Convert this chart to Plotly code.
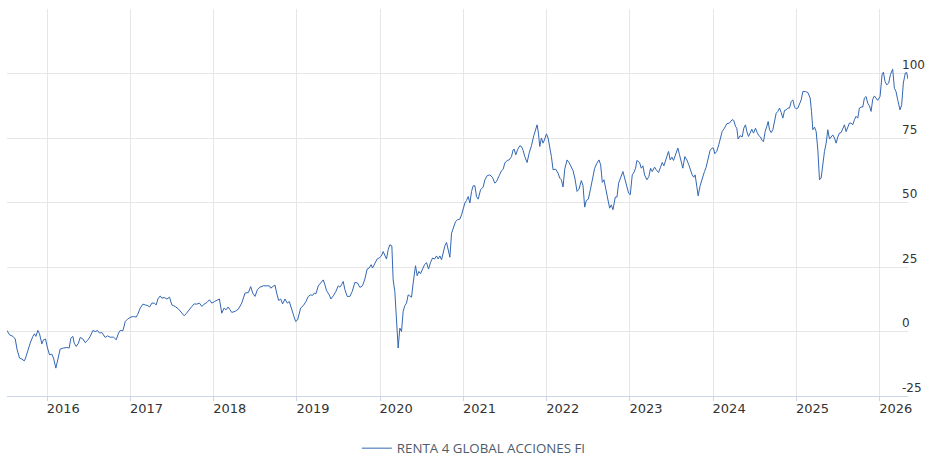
import numpy as np
import pandas as pd
import plotly.graph_objects as go

# Decimal-year dates
dec_years = [
    2015.517, 2015.548, 2015.589, 2015.616, 2015.637, 2015.668, 2015.697, 2015.724, 2015.740, 2015.769,
    2015.796, 2015.828, 2015.848, 2015.864, 2015.888, 2015.908, 2015.936, 2015.956, 2015.980, 2016.004,
    2016.028, 2016.056, 2016.076, 2016.104, 2016.124, 2016.156, 2016.196, 2016.236, 2016.264, 2016.284,
    2016.308, 2016.324, 2016.348, 2016.375, 2016.396, 2016.428, 2016.456, 2016.483, 2016.516, 2016.548,
    2016.576, 2016.603, 2016.627, 2016.656, 2016.696, 2016.723, 2016.756, 2016.795, 2016.828, 2016.855,
    2016.876, 2016.908, 2016.936, 2016.964, 2017.004, 2017.036, 2017.068, 2017.084, 2017.116, 2017.148,
    2017.176, 2017.208, 2017.228, 2017.256, 2017.284, 2017.308, 2017.328, 2017.356, 2017.376, 2017.404,
    2017.436, 2017.468, 2017.496, 2017.536, 2017.576, 2017.616, 2017.644, 2017.668, 2017.708, 2017.736,
    2017.764, 2017.796, 2017.828, 2017.856, 2017.884, 2017.916, 2017.948, 2017.976, 2018.008, 2018.036,
    2018.068, 2018.096, 2018.124, 2018.148, 2018.172, 2018.196, 2018.216, 2018.256, 2018.296, 2018.336,
    2018.376, 2018.416, 2018.444, 2018.468, 2018.496, 2018.524, 2018.556, 2018.596, 2018.636, 2018.668,
    2018.684, 2018.716, 2018.736, 2018.756, 2018.780, 2018.804, 2018.828, 2018.856, 2018.884, 2018.908,
    2018.936, 2018.964, 2018.984, 2019.008,
    2019.044, 2019.076, 2019.108, 2019.136, 2019.164, 2019.188, 2019.208, 2019.228, 2019.256, 2019.284,
    2019.316, 2019.336, 2019.356, 2019.388, 2019.408, 2019.436, 2019.468, 2019.496, 2019.516, 2019.536,
    2019.556, 2019.576, 2019.604, 2019.636, 2019.664, 2019.696, 2019.728, 2019.756, 2019.788, 2019.816,
    2019.844, 2019.868, 2019.892, 2019.908, 2019.936, 2019.964, 2019.988, 2020.016, 2020.036, 2020.056,
    2020.076, 2020.096,
    2020.116, 2020.140, 2020.156, 2020.176, 2020.196, 2020.216, 2020.236, 2020.256, 2020.276, 2020.296,
    2020.316, 2020.336, 2020.356, 2020.376, 2020.396, 2020.424, 2020.444, 2020.464, 2020.484, 2020.508,
    2020.532, 2020.556, 2020.580, 2020.604, 2020.628, 2020.652, 2020.676, 2020.696, 2020.716, 2020.736,
    2020.756, 2020.776, 2020.796, 2020.816, 2020.836, 2020.856, 2020.876, 2020.904, 2020.928, 2020.956,
    2020.976, 2020.996, 2021.016, 2021.036, 2021.056,
    2021.076, 2021.096, 2021.116, 2021.136, 2021.156, 2021.176, 2021.204, 2021.236, 2021.256, 2021.284,
    2021.316, 2021.348, 2021.376, 2021.396, 2021.428, 2021.456, 2021.476, 2021.496, 2021.524, 2021.548,
    2021.576, 2021.596, 2021.608, 2021.628, 2021.648, 2021.676, 2021.696, 2021.716, 2021.736, 2021.764,
    2021.788, 2021.816, 2021.844, 2021.864, 2021.884, 2021.900, 2021.916, 2021.936, 2021.956, 2021.976,
    2021.996, 2022.016, 2022.036, 2022.056, 2022.076, 2022.108, 2022.136, 2022.156, 2022.176, 2022.196,
    2022.216, 2022.244, 2022.268, 2022.296, 2022.316, 2022.340, 2022.364, 2022.388, 2022.416, 2022.436,
    2022.456, 2022.476, 2022.500, 2022.524, 2022.548, 2022.576, 2022.604, 2022.628, 2022.648, 2022.668,
    2022.688, 2022.716, 2022.736, 2022.756, 2022.776, 2022.796, 2022.824, 2022.844, 2022.864, 2022.888,
    2022.916, 2022.936, 2022.956, 2022.984, 2023.004, 2023.028,
    2023.044, 2023.068, 2023.084, 2023.116, 2023.136, 2023.156, 2023.176, 2023.204, 2023.228, 2023.248,
    2023.268, 2023.296, 2023.316, 2023.344, 2023.368, 2023.388, 2023.408, 2023.428, 2023.448, 2023.464,
    2023.484, 2023.504, 2023.524, 2023.548, 2023.576, 2023.596, 2023.616, 2023.636, 2023.660, 2023.684,
    2023.708, 2023.728, 2023.748, 2023.768, 2023.784, 2023.804, 2023.820, 2023.844, 2023.868, 2023.896,
    2023.916, 2023.940, 2023.964, 2023.988, 2024.004, 2024.020, 2024.044, 2024.068, 2024.084, 2024.108,
    2024.136, 2024.164, 2024.196, 2024.228, 2024.248, 2024.268, 2024.284, 2024.300, 2024.324, 2024.348,
    2024.368, 2024.388, 2024.404, 2024.424, 2024.444, 2024.464, 2024.484, 2024.508, 2024.528, 2024.548,
    2024.568, 2024.588, 2024.604, 2024.624, 2024.644, 2024.660, 2024.676, 2024.696, 2024.716, 2024.736,
    2024.756, 2024.776, 2024.796, 2024.816, 2024.836, 2024.856, 2024.876, 2024.896, 2024.916, 2024.936,
    2024.956, 2024.976, 2024.996, 2025.016,
    2025.036, 2025.056, 2025.076, 2025.108, 2025.136, 2025.164, 2025.180, 2025.196, 2025.216, 2025.236,
    2025.256, 2025.276, 2025.296, 2025.316, 2025.336, 2025.356, 2025.376, 2025.396, 2025.416, 2025.436,
    2025.456, 2025.476, 2025.496, 2025.516, 2025.536, 2025.556, 2025.576, 2025.596, 2025.616, 2025.636,
    2025.656, 2025.676, 2025.696, 2025.716, 2025.736, 2025.756, 2025.776, 2025.796, 2025.816, 2025.836,
    2025.856, 2025.876, 2025.896, 2025.916, 2025.936, 2025.956, 2025.976, 2026.004, 2026.028, 2026.044,
    2026.064, 2026.084, 2026.108, 2026.128, 2026.156, 2026.176, 2026.196, 2026.216, 2026.244, 2026.264,
    2026.284, 2026.308, 2026.324, 2026.340,
]

# Fund return (%)
values = [
    0.4, -1.3, -1.9, -2.9, -6.8, -10.3, -10.7, -11.4, -10.3, -6.8,
    -4.5, -1.9, -0.9, -1.9, 0.4, -0.9, -4.8, -3.2, -2.9, -6.4,
    -9.0, -8.8, -10.3, -14.2, -11.0, -6.8, -6.4, -6.2, -6.4, -2.6,
    -1.9, -4.5, -5.8, -4.5, -2.3, -2.9, -4.3, -3.5, -1.9, 0.4,
    0.0, 0.4, -0.6, -0.4, -2.3, -1.7, -2.2, -2.2, -3.2, -0.6,
    0.4, 0.3, 3.9, 4.8, 5.6, 5.8, 5.6, 6.5, 9.1, 10.6,
    10.3, 10.0, 9.5, 11.0, 11.0, 10.3, 12.6, 13.8, 12.9, 13.2,
    12.6, 13.3, 10.3, 9.7, 8.7, 7.1, 6.1, 6.9, 8.7, 9.7,
    10.7, 10.6, 11.0, 9.7, 10.6, 11.2, 12.3, 11.0, 11.6, 12.0,
    12.6, 7.1, 9.1, 8.4, 9.5, 8.4, 7.4, 7.8, 8.7, 11.0,
    14.9, 15.1, 17.4, 14.9, 13.6, 16.2, 17.2, 17.7, 17.8, 17.7,
    16.8, 17.7, 18.0, 14.9, 12.0, 12.6, 10.7, 12.6, 11.0, 11.6,
    9.1, 5.8, 3.9, 4.5,
    9.1, 10.0, 11.6, 13.6, 14.2, 14.0, 14.9, 14.6, 17.7, 19.0,
    20.0, 18.1, 15.8, 14.2, 12.6, 13.8, 15.5, 17.7, 17.2, 18.1,
    19.4, 16.2, 13.6, 13.6, 15.5, 19.0, 18.8, 17.1, 17.7, 20.3,
    24.2, 24.6, 25.9, 24.6, 26.5, 28.1, 28.5, 29.3, 31.0, 29.7,
    28.1, 31.7,
    33.6, 33.2, 20.0, 15.5, 5.8, -6.4, 1.3, 0.0, 7.8, 10.0,
    11.0, 14.2, 13.8, 13.3, 18.8, 25.5, 21.6, 23.3, 22.4, 24.2,
    25.9, 26.7, 24.2, 26.7, 28.5, 28.1, 29.3, 28.1, 29.3, 27.8,
    31.0, 33.2, 34.5, 31.9, 28.8, 38.1, 40.1, 42.6, 43.3, 43.6,
    45.2, 47.4, 49.8, 50.8, 52.3,
    49.8, 54.3, 56.5, 56.5, 52.3, 51.3, 54.9, 56.0, 58.8, 60.4,
    60.7, 59.7, 57.5, 58.1, 60.4, 62.3, 62.9, 65.3, 66.3, 66.5,
    67.8, 70.4, 70.7, 68.5, 70.4, 72.0, 71.7, 70.2, 67.8, 65.5,
    69.1, 72.0, 75.9, 77.9, 80.1, 76.9, 71.7, 75.0, 73.0, 74.6,
    76.6, 75.0, 72.0, 67.8, 62.7, 62.9, 61.4, 59.5, 58.8, 56.0,
    62.9, 66.5, 65.5, 63.3, 62.4, 59.1, 54.3, 55.2, 58.5, 56.5,
    48.2, 50.8, 51.3, 54.9, 59.5, 63.3, 65.3, 66.5, 64.6, 57.8,
    58.8, 54.3, 49.8, 47.8, 49.1, 47.2, 52.1, 52.1, 57.5, 59.5,
    62.0, 59.5, 56.5, 53.6, 53.0, 60.7,
    61.4, 63.3, 66.3, 65.5, 63.3, 64.2, 60.7, 58.8, 60.1, 63.3,
    62.0, 63.7, 62.7, 61.6, 63.7, 65.5, 64.2, 66.5, 68.1, 69.8,
    66.5, 67.6, 66.3, 68.5, 71.1, 68.5, 65.9, 63.3, 67.8, 66.5,
    64.6, 62.7, 60.7, 59.8, 60.7, 56.2, 52.6, 56.5, 59.5, 62.0,
    63.7, 67.2, 70.2, 71.1, 71.1, 68.9, 69.8, 72.4, 74.3, 77.5,
    78.8, 80.5, 80.8, 82.1, 81.8, 79.5, 78.8, 74.6, 75.9, 75.4,
    78.8, 80.1, 77.5, 75.6, 76.9, 78.4, 76.9, 78.8, 77.1, 75.9,
    75.4, 74.0, 73.6, 77.5, 79.5, 81.4, 78.2, 77.1, 78.2, 81.4,
    84.6, 85.3, 86.6, 84.9, 82.7, 85.7, 85.9, 86.6, 86.6, 89.1,
    89.8, 87.0, 86.3, 86.6,
    87.9, 89.8, 93.0, 93.0, 92.6, 90.5, 85.3, 78.2, 79.2, 77.5,
    70.4, 58.8, 59.5, 65.3, 69.8, 73.0, 78.2, 74.6, 75.6, 76.2,
    75.0, 73.0, 75.4, 76.9, 77.1, 78.4, 80.1, 77.5, 79.5, 80.8,
    80.8, 80.1, 82.1, 83.4, 82.7, 86.6, 87.0, 87.0, 90.5, 91.1,
    88.5, 87.5, 85.3, 90.0, 91.3, 90.5, 89.6, 91.1, 99.5, 100.5,
    96.9, 95.6, 96.3, 99.5, 101.7, 94.3, 93.0, 89.8, 85.9, 87.9,
    96.3, 100.2, 100.4, 97.8,
]

series_name = "RENTA 4 GLOBAL ACCIONES FI"
tick_years = [2016, 2017, 2018, 2019, 2020, 2021, 2022, 2023, 2024, 2025, 2026]
y_ticks = [-25, 0, 25, 50, 75, 100, 125]
y_tick_labels = ["-25", "0", "25", "50", "75", "100", ""]


def to_date(t):
    y = int(np.floor(t))
    start = pd.Timestamp(year=y, month=1, day=1)
    end = pd.Timestamp(year=y + 1, month=1, day=1)
    return start + (end - start) * (t - y)


dates = [to_date(t) for t in dec_years]
tick_dates = [pd.Timestamp(year=y, month=1, day=1) for y in tick_years]

fig = go.Figure()
fig.add_trace(go.Scatter(
    x=dates, y=values, mode="lines", name=series_name,
    line=dict(color="#3367b4", width=1),
    showlegend=True,
))

fig.update_layout(
    width=926, height=456,
    margin=dict(l=7, r=18, t=9, b=60, autoexpand=False),
    paper_bgcolor="white", plot_bgcolor="white",
    showlegend=True,
    legend=dict(
        orientation="h", x=0.3883, xanchor="left",
        yref="container", y=0.0504, yanchor="top",
        font=dict(family="Open Sans", size=13.3, color="#4d5b6b"),
        bgcolor="rgba(0,0,0,0)",
    ),
    xaxis=dict(
        type="date", range=[dates[0], dates[-1]],
        tickvals=tick_dates, ticktext=[str(y) for y in tick_years],
        showgrid=True, gridcolor="#e6e6e6", gridwidth=1,
        showline=True, linecolor="#ccd6eb", linewidth=1,
        ticks="outside", ticklen=4, tickcolor="#ccd6eb",
        ticklabelshift=16, ticklabelstandoff=-4,
        tickfont=dict(family="DejaVu Sans", size=13, color="#333333"),
        zeroline=False, automargin=False,
    ),
    yaxis=dict(
        side="right", range=[-25, 125],
        tickvals=y_ticks, ticktext=y_tick_labels,
        showgrid=True, gridcolor="#e6e6e6", gridwidth=1,
        showline=False, ticks="",
        ticklabelposition="outside top", ticklabelstandoff=-7,
        tickfont=dict(family="DejaVu Sans", size=12, color="#333333"),
        zeroline=False, automargin=False,
    ),
)

fig.write_html(
    "out.html",
    config={"displayModeBar": False},
    post_script="document.body.style.margin='0';",
)
